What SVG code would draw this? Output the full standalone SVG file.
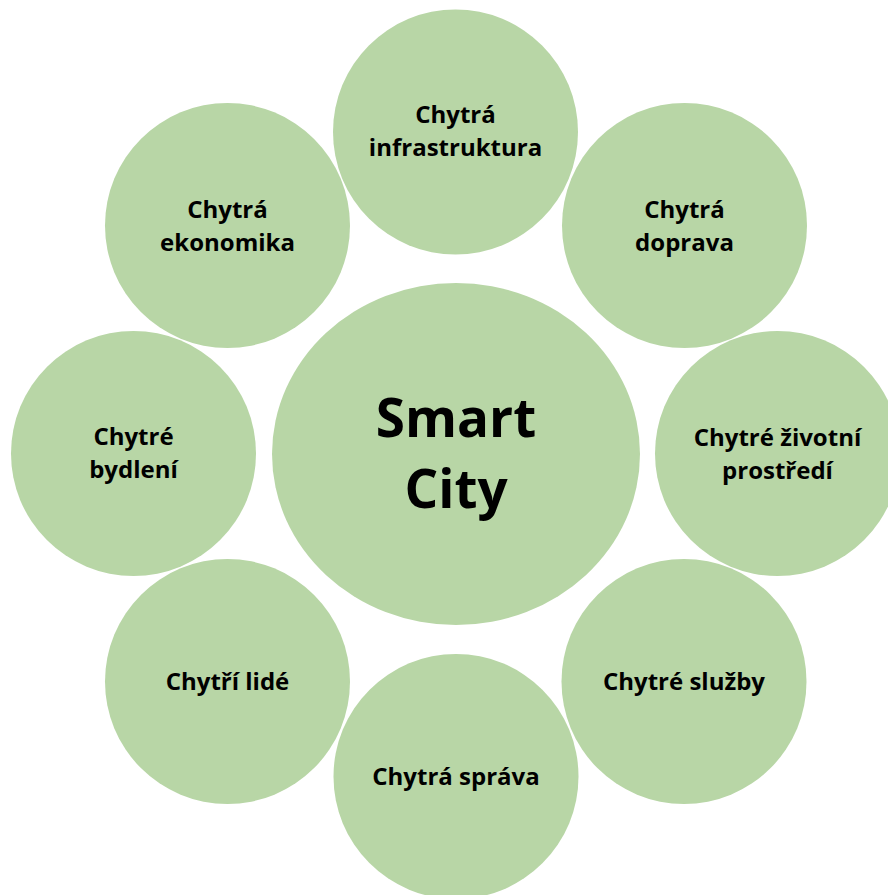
<svg xmlns="http://www.w3.org/2000/svg" width="888" height="895" viewBox="0 0 888 895">
<style>
.n{fill:#b8d6a6}
.t{font-family:"Open Sans","Liberation Sans",sans-serif;font-weight:bold;font-size:24px;fill:#000;text-anchor:middle}
.c{font-size:53px}
</style>
<rect width="888" height="895" fill="#fff"/>
<g id="connectors"/>
<g id="center">
<ellipse class="n" cx="456" cy="454" rx="184" ry="171"/>
<text class="t c" x="456" y="437">Smart</text>
<text class="t c" x="456" y="508">City</text>
</g>
<g id="infrastruktura">
<circle class="n" cx="455.5" cy="132" r="122.5"/>
<text class="t" x="455.5" y="123">Chytrá</text>
<text class="t" x="455.5" y="156">infrastruktura</text>
</g>
<g id="doprava">
<circle class="n" cx="684.5" cy="225.5" r="122.5"/>
<text class="t" x="684.5" y="218">Chytrá</text>
<text class="t" x="684.5" y="251">doprava</text>
</g>
<g id="prostredi">
<circle class="n" cx="777.5" cy="453.5" r="122.5"/>
<text class="t" x="777.5" y="446">Chytré životní</text>
<text class="t" x="777.5" y="479">prostředí</text>
</g>
<g id="sluzby">
<circle class="n" cx="684" cy="681.5" r="122.5"/>
<text class="t" x="684" y="690">Chytré služby</text>
</g>
<g id="sprava">
<circle class="n" cx="456" cy="776.5" r="122.5"/>
<text class="t" x="456" y="785">Chytrá správa</text>
</g>
<g id="lide">
<circle class="n" cx="227.5" cy="681.5" r="122.5"/>
<text class="t" x="227.5" y="690">Chytří lidé</text>
</g>
<g id="bydleni">
<circle class="n" cx="133.5" cy="453.5" r="122.5"/>
<text class="t" x="133.5" y="445">Chytré</text>
<text class="t" x="133.5" y="478">bydlení</text>
</g>
<g id="ekonomika">
<circle class="n" cx="227.5" cy="225.5" r="122.5"/>
<text class="t" x="227.5" y="218">Chytrá</text>
<text class="t" x="227.5" y="251">ekonomika</text>
</g>
</svg>
